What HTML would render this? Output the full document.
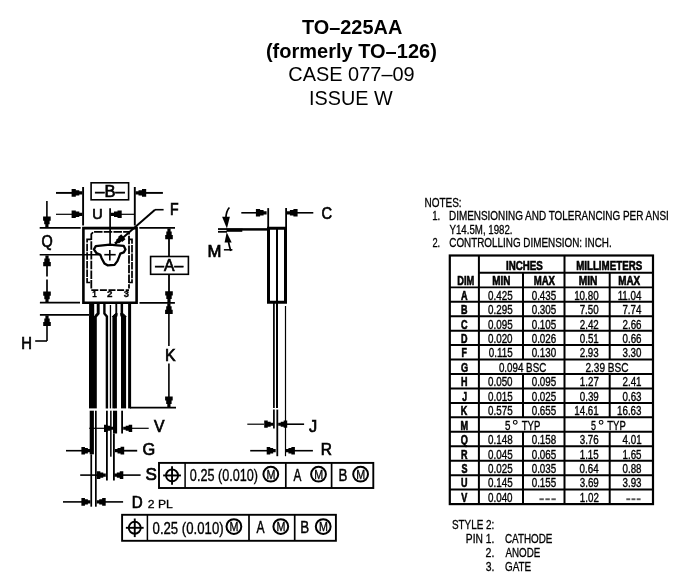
<!DOCTYPE html>
<html><head><meta charset="utf-8"><style>
html,body{margin:0;padding:0;background:#fff;width:686px;height:588px;overflow:hidden}
svg{display:block;will-change:transform}
text{font-family:"Liberation Sans",sans-serif;stroke:none}
</style></head><body>
<svg width="686" height="588" viewBox="0 0 686 588" stroke="#000" fill="none">
<rect x="0" y="0" width="686" height="588" fill="#fff" stroke="none"/>
<g stroke="#000">
<text x="301.90" y="33.70" font-size="21" font-weight="bold" textLength="100.39" lengthAdjust="spacingAndGlyphs" fill="#000" >TO–225AA</text>
<text x="265.90" y="57.90" font-size="21" font-weight="bold" textLength="170.92" lengthAdjust="spacingAndGlyphs" fill="#000" >(formerly TO–126)</text>
<text x="288.30" y="81.20" font-size="20.2" font-weight="normal" textLength="126.36" lengthAdjust="spacingAndGlyphs" fill="#000" >CASE 077–09</text>
<text x="309.12" y="105.20" font-size="20.2" font-weight="normal" textLength="83.64" lengthAdjust="spacingAndGlyphs" fill="#000" >ISSUE W</text>
<line x1="83.1" y1="187" x2="83.1" y2="225.5" stroke-width="1.9" />
<line x1="134.8" y1="187" x2="134.8" y2="225.5" stroke-width="1.9" />
<line x1="56" y1="192.9" x2="75" y2="192.9" stroke-width="1.9" />
<polygon points="82.30,191.30 79.30,191.30 79.30,190.20 75.80,190.20 75.80,189.10 71.60,189.10 71.60,196.70 75.80,196.70 75.80,195.60 79.30,195.60 79.30,194.50 82.30,194.50" stroke="none" fill="#000"/>
<line x1="142" y1="192.9" x2="162.9" y2="192.9" stroke-width="1.9" />
<polygon points="135.50,191.30 138.50,191.30 138.50,190.20 142.00,190.20 142.00,189.10 146.20,189.10 146.20,196.70 142.00,196.70 142.00,195.60 138.50,195.60 138.50,194.50 135.50,194.50" stroke="none" fill="#000"/>
<rect x="91.1" y="182.8" width="37.5" height="17" stroke-width="1.6" fill="none"/>
<text x="95.35" y="196.80" font-size="16.42" font-weight="normal" textLength="29.39" lengthAdjust="spacingAndGlyphs" fill="#000" style="stroke:#000;stroke-width:0.7px">–B–</text>
<line x1="56" y1="214.3" x2="75" y2="214.3" stroke-width="1.2" />
<polygon points="82.30,212.70 79.30,212.70 79.30,211.60 75.80,211.60 75.80,210.50 71.60,210.50 71.60,218.10 75.80,218.10 75.80,217.00 79.30,217.00 79.30,215.90 82.30,215.90" stroke="none" fill="#000"/>
<line x1="110.1" y1="208.3" x2="110.1" y2="244.5" stroke-width="1.7" />
<line x1="117" y1="214.3" x2="134.3" y2="214.3" stroke-width="1.2" />
<polygon points="111.00,212.70 114.00,212.70 114.00,211.60 117.50,211.60 117.50,210.50 121.70,210.50 121.70,218.10 117.50,218.10 117.50,217.00 114.00,217.00 114.00,215.90 111.00,215.90" stroke="none" fill="#000"/>
<text x="92.27" y="219.40" font-size="15.55" font-weight="normal" textLength="10.39" lengthAdjust="spacingAndGlyphs" fill="#000" style="stroke:#000;stroke-width:0.7px">U</text>
<line x1="155" y1="209.7" x2="163.6" y2="209.7" stroke-width="1.6" />
<line x1="155" y1="209.7" x2="118" y2="242" stroke-width="2" />
<polygon points="115.90,244.86 118.25,242.87 118.87,243.59 121.61,241.27 122.23,242.00 125.53,239.21 121.26,234.17 117.96,236.96 118.58,237.69 115.84,240.02 116.45,240.75 114.10,242.74" stroke="none" fill="#000"/>
<text x="169.92" y="215.20" font-size="15.7" font-weight="normal" textLength="8.60" lengthAdjust="spacingAndGlyphs" fill="#000" style="stroke:#000;stroke-width:0.7px">F</text>
<line x1="46.9" y1="201.1" x2="46.9" y2="220" stroke-width="1.6" />
<polygon points="45.30,227.30 45.30,224.30 44.20,224.30 44.20,220.80 43.10,220.80 43.10,216.60 50.70,216.60 50.70,220.80 49.60,220.80 49.60,224.30 48.50,224.30 48.50,227.30" stroke="none" fill="#000"/>
<line x1="39.7" y1="227.9" x2="80.7" y2="227.9" stroke-width="1.8" />
<line x1="39.7" y1="254.7" x2="101" y2="254.7" stroke-width="1.6" />
<text x="41.50" y="247.30" font-size="16.5" font-weight="normal" textLength="11.24" lengthAdjust="spacingAndGlyphs" fill="#000" style="stroke:#000;stroke-width:0.7px">Q</text>
<polygon points="45.40,255.60 45.40,258.60 44.30,258.60 44.30,262.10 43.20,262.10 43.20,266.30 50.80,266.30 50.80,262.10 49.70,262.10 49.70,258.60 48.60,258.60 48.60,255.60" stroke="none" fill="#000"/>
<line x1="47" y1="262" x2="47" y2="276.6" stroke-width="1.7" />
<line x1="47" y1="279.6" x2="47" y2="296" stroke-width="1.7" />
<polygon points="45.40,302.20 45.40,299.20 44.30,299.20 44.30,295.70 43.20,295.70 43.20,291.50 50.80,291.50 50.80,295.70 49.70,295.70 49.70,299.20 48.60,299.20 48.60,302.20" stroke="none" fill="#000"/>
<line x1="39.9" y1="302.7" x2="80" y2="302.7" stroke-width="1.8" />
<line x1="39.9" y1="314.9" x2="89" y2="314.9" stroke-width="1.8" />
<polygon points="45.40,315.40 45.40,318.40 44.30,318.40 44.30,321.90 43.20,321.90 43.20,326.10 50.80,326.10 50.80,321.90 49.70,321.90 49.70,318.40 48.60,318.40 48.60,315.40" stroke="none" fill="#000"/>
<line x1="47" y1="322" x2="47" y2="341" stroke-width="1.6" />
<line x1="47" y1="341" x2="35.2" y2="341" stroke-width="1.6" />
<text x="21.16" y="348.80" font-size="16.42" font-weight="normal" textLength="10.70" lengthAdjust="spacingAndGlyphs" fill="#000" style="stroke:#000;stroke-width:0.7px">H</text>
<path d="M83.4,228.1 H136.6 V302.8 H83.4 Z" stroke-width="2.6" fill="none" />
<line x1="139.3" y1="227.9" x2="175" y2="227.9" stroke-width="1.8" />
<line x1="139.5" y1="302.9" x2="174.9" y2="302.9" stroke-width="1.8" />
<path d="M91.3,288.6 V234.2 L93.3,231.9 H129 V288.6" stroke-width="1.8" fill="none" stroke-dasharray="8.5 1.2"/>
<line x1="91.3" y1="290.2" x2="129" y2="290.2" stroke-width="1.7" stroke-dasharray="7 1.6"/>
<path d="M91.3,239.3 H87.1 V282.5 H91.3" stroke-width="1.7" fill="none" stroke-dasharray="7.5 1.1"/>
<path d="M129,239.3 H132 V282.5 H129" stroke-width="1.7" fill="none" stroke-dasharray="7.5 1.1"/>
<path d="M95.8,246.2 L102.8,245.3 L109.8,244.7 L117.4,245.3 L123.8,245.9 L125.5,249.4 L123.8,252.4 L120.3,253.7 L119.2,256.6 L117.4,261.1 L114.5,264.9 L107.5,265.3 L104.4,263.4 L101.6,258.2 L100.4,254.8 L96.4,253 L93.9,249.4 Z" stroke-width="2.3" fill="none" stroke-linejoin="round"/>
<line x1="104.3" y1="254.7" x2="115.7" y2="254.7" stroke-width="1.6" />
<line x1="109.8" y1="250" x2="109.8" y2="260.5" stroke-width="1.6" />
<text x="92.16" y="297.30" font-size="9.3" font-weight="bold" textLength="4.50" lengthAdjust="spacingAndGlyphs" fill="#000" style="stroke:#000;stroke-width:0.3px">1</text>
<text x="107.01" y="297.30" font-size="9.3" font-weight="bold" textLength="5.45" lengthAdjust="spacingAndGlyphs" fill="#000" style="stroke:#000;stroke-width:0.3px">2</text>
<text x="123.71" y="297.30" font-size="9.3" font-weight="bold" textLength="5.28" lengthAdjust="spacingAndGlyphs" fill="#000" style="stroke:#000;stroke-width:0.3px">3</text>
<polygon points="167.40,228.60 167.40,231.60 166.30,231.60 166.30,235.10 165.20,235.10 165.20,239.30 172.80,239.30 172.80,235.10 171.70,235.10 171.70,231.60 170.60,231.60 170.60,228.60" stroke="none" fill="#000"/>
<line x1="169" y1="236" x2="169" y2="256.5" stroke-width="1.8" />
<rect x="150.6" y="256.5" width="37.8" height="17.8" stroke-width="1.6" fill="none"/>
<text x="155.35" y="270.80" font-size="15.84" font-weight="normal" textLength="27.89" lengthAdjust="spacingAndGlyphs" fill="#000" style="stroke:#000;stroke-width:0.7px">–A–</text>
<line x1="169" y1="274.3" x2="169" y2="294" stroke-width="1.8" />
<polygon points="167.40,302.00 167.40,299.00 166.30,299.00 166.30,295.50 165.20,295.50 165.20,291.30 172.80,291.30 172.80,295.50 171.70,295.50 171.70,299.00 170.60,299.00 170.60,302.00" stroke="none" fill="#000"/>
<polygon points="167.30,303.30 167.30,306.30 166.20,306.30 166.20,309.80 165.10,309.80 165.10,314.00 172.70,314.00 172.70,309.80 171.60,309.80 171.60,306.30 170.50,306.30 170.50,303.30" stroke="none" fill="#000"/>
<line x1="168.9" y1="310" x2="168.9" y2="346" stroke-width="1.6" />
<line x1="168.9" y1="363.5" x2="168.9" y2="400" stroke-width="1.6" />
<polygon points="167.30,407.10 167.30,404.10 166.20,404.10 166.20,400.60 165.10,400.60 165.10,396.40 172.70,396.40 172.70,400.60 171.60,400.60 171.60,404.10 170.50,404.10 170.50,407.10" stroke="none" fill="#000"/>
<text x="164.98" y="360.60" font-size="16.13" font-weight="normal" textLength="10.56" lengthAdjust="spacingAndGlyphs" fill="#000" style="stroke:#000;stroke-width:0.7px">K</text>
<line x1="130" y1="407.6" x2="176" y2="407.6" stroke-width="1.8" />
<rect x="89.1" y="303" width="5.10" height="13.00" fill="#000" stroke="none"/>
<rect x="89" y="316" width="7.80" height="92.40" fill="#000" stroke="none"/>
<path d="M98.2,303 V313.5 L95.5,316.5" stroke-width="2.9" fill="none" />
<path d="M104.4,303 V313.5 L106.9,316.5 V408.4" stroke-width="2.4" fill="none" />
<rect x="109.8" y="305" width="1.30" height="103.40" fill="#000" stroke="none"/>
<path d="M116.3,303 V313.5 L114.6,316.5 V408.4" stroke-width="0.5" fill="none" />
<rect x="112.4" y="316" width="4.50" height="92.40" fill="#000" stroke="none"/>
<rect x="115.4" y="303" width="1.80" height="11.00" fill="#000" stroke="none"/>
<polygon points="115.4,313.5 117.2,313.5 116.9,316.5 112.4,316.5" fill="#000"/>
<rect x="120.6" y="303" width="2.50" height="11.00" fill="#000" stroke="none"/>
<rect x="121" y="316" width="5.10" height="92.40" fill="#000" stroke="none"/>
<polygon points="120.6,313.5 123.1,313.5 126.1,316.5 121,316.5" fill="#000"/>
<rect x="128.1" y="303" width="3.00" height="105.40" fill="#000" stroke="none"/>
<rect x="89.7" y="410.7" width="4.20" height="43.60" fill="#000" stroke="none"/>
<rect x="90.4" y="454.3" width="1.70" height="52.40" fill="#000" stroke="none"/>
<rect x="95" y="410.7" width="1.70" height="96.00" fill="#000" stroke="none"/>
<rect x="106" y="410.7" width="1.80" height="69.80" fill="#000" stroke="none"/>
<rect x="110.1" y="410.7" width="1.50" height="46.00" fill="#000" stroke="none"/>
<rect x="113" y="410.7" width="4.10" height="22.80" fill="#000" stroke="none"/>
<rect x="113" y="433.5" width="1.80" height="47.00" fill="#000" stroke="none"/>
<rect x="121.2" y="410.7" width="1.80" height="22.80" fill="#000" stroke="none"/>
<line x1="89.2" y1="428.3" x2="106" y2="428.3" stroke-width="1.2" />
<polygon points="113.00,426.78 110.48,426.78 110.48,425.74 107.53,425.74 107.53,424.70 104.00,424.70 104.00,431.90 107.53,431.90 107.53,430.86 110.48,430.86 110.48,429.82 113.00,429.82" stroke="none" fill="#000"/>
<line x1="130" y1="428.3" x2="148.7" y2="428.3" stroke-width="1.2" />
<polygon points="123.20,426.78 125.72,426.78 125.72,425.74 128.67,425.74 128.67,424.70 132.20,424.70 132.20,431.90 128.67,431.90 128.67,430.86 125.72,430.86 125.72,429.82 123.20,429.82" stroke="none" fill="#000"/>
<text x="154.07" y="432.30" font-size="15.99" font-weight="normal" textLength="10.49" lengthAdjust="spacingAndGlyphs" fill="#000" style="stroke:#000;stroke-width:0.7px">V</text>
<line x1="66" y1="450.7" x2="82" y2="450.7" stroke-width="1.6" />
<polygon points="90.40,449.10 87.88,449.10 87.88,448.00 84.93,448.00 84.93,446.90 81.40,446.90 81.40,454.50 84.93,454.50 84.93,453.40 87.88,453.40 87.88,452.30 90.40,452.30" stroke="none" fill="#000"/>
<line x1="120" y1="450.7" x2="137.2" y2="450.7" stroke-width="1.8" />
<polygon points="114.90,449.08 117.51,449.08 117.51,447.96 120.55,447.96 120.55,446.85 124.20,446.85 124.20,454.55 120.55,454.55 120.55,453.44 117.51,453.44 117.51,452.32 114.90,452.32" stroke="none" fill="#000"/>
<text x="142.43" y="454.80" font-size="16.5" font-weight="normal" textLength="12.71" lengthAdjust="spacingAndGlyphs" fill="#000" style="stroke:#000;stroke-width:0.7px">G</text>
<line x1="80.2" y1="475.1" x2="97" y2="475.1" stroke-width="1.6" />
<polygon points="105.80,473.50 103.28,473.50 103.28,472.40 100.33,472.40 100.33,471.30 96.80,471.30 96.80,478.90 100.33,478.90 100.33,477.80 103.28,477.80 103.28,476.70 105.80,476.70" stroke="none" fill="#000"/>
<line x1="122" y1="475.1" x2="140.6" y2="475.1" stroke-width="1.6" />
<polygon points="114.30,473.50 116.82,473.50 116.82,472.40 119.77,472.40 119.77,471.30 123.30,471.30 123.30,478.90 119.77,478.90 119.77,477.80 116.82,477.80 116.82,476.70 114.30,476.70" stroke="none" fill="#000"/>
<text x="145.58" y="479.60" font-size="16.5" font-weight="normal" textLength="11.37" lengthAdjust="spacingAndGlyphs" fill="#000" style="stroke:#000;stroke-width:0.7px">S</text>
<line x1="63" y1="501.9" x2="82" y2="501.9" stroke-width="1.6" />
<polygon points="90.40,500.30 87.88,500.30 87.88,499.20 84.93,499.20 84.93,498.10 81.40,498.10 81.40,505.70 84.93,505.70 84.93,504.60 87.88,504.60 87.88,503.50 90.40,503.50" stroke="none" fill="#000"/>
<line x1="104" y1="501.9" x2="123.1" y2="501.9" stroke-width="1.6" />
<polygon points="96.70,500.30 99.22,500.30 99.22,499.20 102.17,499.20 102.17,498.10 105.70,498.10 105.70,505.70 102.17,505.70 102.17,504.60 99.22,504.60 99.22,503.50 96.70,503.50" stroke="none" fill="#000"/>
<text x="131.84" y="508.30" font-size="16" font-weight="normal" textLength="10.92" lengthAdjust="spacingAndGlyphs" fill="#000" style="stroke:#000;stroke-width:0.7px">D</text>
<text x="147.84" y="508.30" font-size="11.3" font-weight="normal" textLength="25.00" lengthAdjust="spacingAndGlyphs" fill="#000" style="stroke:#000;stroke-width:0.3px">2 PL</text>
<rect x="159.0" y="462.9" width="214.3" height="25.100000000000023" stroke-width="1.9" fill="none"/>
<line x1="185.1" y1="462.9" x2="185.1" y2="488.0" stroke-width="1.5" />
<line x1="285.8" y1="462.9" x2="285.8" y2="488.0" stroke-width="1.7" />
<line x1="331.6" y1="462.9" x2="331.6" y2="488.0" stroke-width="1.7" />
<circle cx="172.05" cy="475.45" r="6.0" stroke-width="1.9" fill="none"/>
<line x1="163.15" y1="475.45" x2="180.95000000000002" y2="475.45" stroke-width="1.9" />
<line x1="172.05" y1="466.15" x2="172.05" y2="484.75" stroke-width="1.9" />
<text x="189.87" y="481.35" font-size="16.3" font-weight="normal" textLength="68.05" lengthAdjust="spacingAndGlyphs" fill="#000" style="stroke:#000;stroke-width:0.35px">0.25 (0.010)</text>
<circle cx="270.8" cy="474.2" r="7.4" stroke-width="2.0" fill="none"/>
<text x="266.49" y="478.60" font-size="12.8" font-weight="normal" textLength="8.95" lengthAdjust="spacingAndGlyphs" fill="#000" style="stroke:#000;stroke-width:0.3px">M</text>
<text x="293.43" y="480.85" font-size="16.5" font-weight="normal" textLength="7.87" lengthAdjust="spacingAndGlyphs" fill="#000" style="stroke:#000;stroke-width:0.45px">A</text>
<circle cx="318.5" cy="474.2" r="7.4" stroke-width="2.0" fill="none"/>
<text x="314.19" y="478.60" font-size="12.8" font-weight="normal" textLength="8.95" lengthAdjust="spacingAndGlyphs" fill="#000" style="stroke:#000;stroke-width:0.3px">M</text>
<text x="338.56" y="480.85" font-size="16.5" font-weight="normal" textLength="8.91" lengthAdjust="spacingAndGlyphs" fill="#000" style="stroke:#000;stroke-width:0.45px">B</text>
<circle cx="360.6" cy="474.2" r="7.4" stroke-width="2.0" fill="none"/>
<text x="356.29" y="478.60" font-size="12.8" font-weight="normal" textLength="8.95" lengthAdjust="spacingAndGlyphs" fill="#000" style="stroke:#000;stroke-width:0.3px">M</text>
<rect x="122.1" y="514.8" width="213.79999999999998" height="26.0" stroke-width="1.9" fill="none"/>
<line x1="147.4" y1="514.8" x2="147.4" y2="540.8" stroke-width="1.5" />
<line x1="249" y1="514.8" x2="249" y2="540.8" stroke-width="1.7" />
<line x1="294.7" y1="514.8" x2="294.7" y2="540.8" stroke-width="1.7" />
<circle cx="134.75" cy="527.8" r="6.0" stroke-width="1.9" fill="none"/>
<line x1="125.85" y1="527.8" x2="143.65" y2="527.8" stroke-width="1.9" />
<line x1="134.75" y1="518.5" x2="134.75" y2="537.0999999999999" stroke-width="1.9" />
<text x="152.55" y="533.70" font-size="16.3" font-weight="normal" textLength="71.10" lengthAdjust="spacingAndGlyphs" fill="#000" style="stroke:#000;stroke-width:0.35px">0.25 (0.010)</text>
<circle cx="233.9" cy="526.55" r="7.4" stroke-width="2.0" fill="none"/>
<text x="229.59" y="530.95" font-size="12.8" font-weight="normal" textLength="8.95" lengthAdjust="spacingAndGlyphs" fill="#000" style="stroke:#000;stroke-width:0.3px">M</text>
<text x="256.53" y="533.20" font-size="16.5" font-weight="normal" textLength="8.07" lengthAdjust="spacingAndGlyphs" fill="#000" style="stroke:#000;stroke-width:0.45px">A</text>
<circle cx="280.8" cy="526.55" r="7.4" stroke-width="2.0" fill="none"/>
<text x="276.49" y="530.95" font-size="12.8" font-weight="normal" textLength="8.95" lengthAdjust="spacingAndGlyphs" fill="#000" style="stroke:#000;stroke-width:0.3px">M</text>
<text x="300.36" y="533.20" font-size="16.5" font-weight="normal" textLength="8.91" lengthAdjust="spacingAndGlyphs" fill="#000" style="stroke:#000;stroke-width:0.45px">B</text>
<circle cx="323.2" cy="526.55" r="7.4" stroke-width="2.0" fill="none"/>
<text x="318.89" y="530.95" font-size="12.8" font-weight="normal" textLength="8.95" lengthAdjust="spacingAndGlyphs" fill="#000" style="stroke:#000;stroke-width:0.3px">M</text>
<line x1="268.2" y1="208.1" x2="268.2" y2="228" stroke-width="1.8" />
<line x1="286.1" y1="208.1" x2="286.1" y2="228" stroke-width="1.8" />
<line x1="241.3" y1="212.8" x2="258" y2="212.8" stroke-width="1.6" />
<polygon points="266.60,211.20 263.60,211.20 263.60,210.10 260.10,210.10 260.10,209.00 255.90,209.00 255.90,216.60 260.10,216.60 260.10,215.50 263.60,215.50 263.60,214.40 266.60,214.40" stroke="none" fill="#000"/>
<line x1="295" y1="212.8" x2="313.3" y2="212.8" stroke-width="1.6" />
<polygon points="286.90,211.20 289.90,211.20 289.90,210.10 293.40,210.10 293.40,209.00 297.60,209.00 297.60,216.60 293.40,216.60 293.40,215.50 289.90,215.50 289.90,214.40 286.90,214.40" stroke="none" fill="#000"/>
<text x="321.62" y="218.50" font-size="16.5" font-weight="normal" textLength="10.58" lengthAdjust="spacingAndGlyphs" fill="#000" style="stroke:#000;stroke-width:0.7px">C</text>
<path d="M268.5,228.3 H285.5 V302.3 H268.5 Z" stroke-width="3" fill="none" />
<line x1="277" y1="228" x2="277" y2="408.1" stroke-width="2" />
<rect x="226.5" y="228.1" width="15.80" height="3.70" fill="#000" stroke="none"/>
<line x1="242" y1="229.4" x2="268" y2="229.4" stroke-width="2.5" />
<line x1="218" y1="229.05" x2="227" y2="229.05" stroke-width="1.8" />
<line x1="218" y1="231.8" x2="227" y2="231.8" stroke-width="1.8" />
<path d="M229.4,207.5 Q226.2,211 225.9,218" stroke-width="1.7" fill="none" />
<polygon points="222.1,216.8 229.9,216.8 226.9,228.6" fill="#000" stroke="none"/>
<polygon points="224.6,242.4 231.7,242.4 226.7,232.2" fill="#000" stroke="none"/>
<path d="M228.5,242 Q229.5,247 230.8,251" stroke-width="1.7" fill="none" />
<line x1="223.9" y1="249.8" x2="232.4" y2="249.8" stroke-width="1.5" />
<text x="207.51" y="256.50" font-size="16.42" font-weight="normal" textLength="13.93" lengthAdjust="spacingAndGlyphs" fill="#000" style="stroke:#000;stroke-width:0.7px">M</text>
<line x1="273.9" y1="302" x2="273.9" y2="408.1" stroke-width="1.7" />
<line x1="273.9" y1="409.6" x2="273.9" y2="428.5" stroke-width="1.7" />
<line x1="277.3" y1="409.6" x2="277.3" y2="456.2" stroke-width="1.8" />
<line x1="285.5" y1="306" x2="285.5" y2="456.2" stroke-width="1.2" />
<line x1="247.3" y1="424.2" x2="264" y2="424.2" stroke-width="1.2" />
<polygon points="273.20,422.68 270.68,422.68 270.68,421.64 267.73,421.64 267.73,420.60 264.20,420.60 264.20,427.80 267.73,427.80 267.73,426.76 270.68,426.76 270.68,425.72 273.20,425.72" stroke="none" fill="#000"/>
<line x1="287" y1="424.2" x2="304.1" y2="424.2" stroke-width="1.6" />
<polygon points="278.20,422.68 280.72,422.68 280.72,421.64 283.67,421.64 283.67,420.60 287.20,420.60 287.20,427.80 283.67,427.80 283.67,426.76 280.72,426.76 280.72,425.72 278.20,425.72" stroke="none" fill="#000"/>
<text x="309.10" y="431.60" font-size="16.5" font-weight="normal" textLength="8.17" lengthAdjust="spacingAndGlyphs" fill="#000" style="stroke:#000;stroke-width:0.7px">J</text>
<line x1="250.2" y1="450.7" x2="267" y2="450.7" stroke-width="1.6" />
<polygon points="275.70,449.10 273.18,449.10 273.18,448.00 270.23,448.00 270.23,446.90 266.70,446.90 266.70,454.50 270.23,454.50 270.23,453.40 273.18,453.40 273.18,452.30 275.70,452.30" stroke="none" fill="#000"/>
<line x1="294" y1="450.7" x2="312.9" y2="450.7" stroke-width="1.6" />
<polygon points="285.90,449.10 288.42,449.10 288.42,448.00 291.37,448.00 291.37,446.90 294.90,446.90 294.90,454.50 291.37,454.50 291.37,453.40 288.42,453.40 288.42,452.30 285.90,452.30" stroke="none" fill="#000"/>
<text x="320.71" y="455.40" font-size="15.7" font-weight="normal" textLength="11.17" lengthAdjust="spacingAndGlyphs" fill="#000" style="stroke:#000;stroke-width:0.7px">R</text>
<text x="424.45" y="206.70" font-size="12" font-weight="normal" textLength="37.12" lengthAdjust="spacingAndGlyphs" fill="#000" style="stroke:#000;stroke-width:0.3px">NOTES:</text>
<text x="432.13" y="219.60" font-size="12" font-weight="normal" textLength="8.03" lengthAdjust="spacingAndGlyphs" fill="#000" style="stroke:#000;stroke-width:0.3px">1.</text>
<text x="448.96" y="219.60" font-size="12" font-weight="normal" textLength="219.84" lengthAdjust="spacingAndGlyphs" fill="#000" style="stroke:#000;stroke-width:0.3px">DIMENSIONING AND TOLERANCING PER ANSI</text>
<text x="449.51" y="233.60" font-size="12" font-weight="normal" textLength="63.06" lengthAdjust="spacingAndGlyphs" fill="#000" style="stroke:#000;stroke-width:0.3px">Y14.5M, 1982.</text>
<text x="432.39" y="246.70" font-size="12" font-weight="normal" textLength="7.74" lengthAdjust="spacingAndGlyphs" fill="#000" style="stroke:#000;stroke-width:0.3px">2.</text>
<text x="449.26" y="246.70" font-size="12" font-weight="normal" textLength="162.39" lengthAdjust="spacingAndGlyphs" fill="#000" style="stroke:#000;stroke-width:0.3px">CONTROLLING DIMENSION: INCH.</text>
<rect x="449.8" y="255.5" width="203.2" height="248.60000000000002" stroke-width="2.2" fill="none"/>
<line x1="478.9" y1="255.5" x2="478.9" y2="504.1" stroke-width="2" />
<line x1="564.5" y1="255.5" x2="564.5" y2="504.1" stroke-width="2" />
<line x1="478.9" y1="272.7" x2="653" y2="272.7" stroke-width="2" />
<line x1="449.8" y1="287.3" x2="653" y2="287.3" stroke-width="1.8" />
<line x1="523" y1="272.7" x2="523" y2="287.3" stroke-width="2" />
<line x1="609.7" y1="272.7" x2="609.7" y2="287.3" stroke-width="2" />
<line x1="449.8" y1="301.75" x2="653" y2="301.75" stroke-width="2" />
<line x1="523" y1="287.3" x2="523" y2="301.75" stroke-width="2" />
<line x1="609.7" y1="287.3" x2="609.7" y2="301.75" stroke-width="2" />
<line x1="449.8" y1="316.2" x2="653" y2="316.2" stroke-width="2" />
<line x1="523" y1="301.75" x2="523" y2="316.2" stroke-width="2" />
<line x1="609.7" y1="301.75" x2="609.7" y2="316.2" stroke-width="2" />
<line x1="449.8" y1="330.65" x2="653" y2="330.65" stroke-width="2" />
<line x1="523" y1="316.2" x2="523" y2="330.65" stroke-width="2" />
<line x1="609.7" y1="316.2" x2="609.7" y2="330.65" stroke-width="2" />
<line x1="449.8" y1="345.09999999999997" x2="653" y2="345.09999999999997" stroke-width="2" />
<line x1="523" y1="330.65" x2="523" y2="345.09999999999997" stroke-width="2" />
<line x1="609.7" y1="330.65" x2="609.7" y2="345.09999999999997" stroke-width="2" />
<line x1="449.8" y1="359.55" x2="653" y2="359.55" stroke-width="2" />
<line x1="523" y1="345.1" x2="523" y2="359.55" stroke-width="2" />
<line x1="609.7" y1="345.1" x2="609.7" y2="359.55" stroke-width="2" />
<line x1="449.8" y1="374.0" x2="653" y2="374.0" stroke-width="2" />
<line x1="449.8" y1="388.45" x2="653" y2="388.45" stroke-width="2" />
<line x1="523" y1="374.0" x2="523" y2="388.45" stroke-width="2" />
<line x1="609.7" y1="374.0" x2="609.7" y2="388.45" stroke-width="2" />
<line x1="449.8" y1="402.9" x2="653" y2="402.9" stroke-width="2" />
<line x1="523" y1="388.45" x2="523" y2="402.9" stroke-width="2" />
<line x1="609.7" y1="388.45" x2="609.7" y2="402.9" stroke-width="2" />
<line x1="449.8" y1="417.34999999999997" x2="653" y2="417.34999999999997" stroke-width="2" />
<line x1="523" y1="402.9" x2="523" y2="417.34999999999997" stroke-width="2" />
<line x1="609.7" y1="402.9" x2="609.7" y2="417.34999999999997" stroke-width="2" />
<line x1="449.8" y1="431.8" x2="653" y2="431.8" stroke-width="2" />
<line x1="449.8" y1="446.25" x2="653" y2="446.25" stroke-width="2" />
<line x1="523" y1="431.8" x2="523" y2="446.25" stroke-width="2" />
<line x1="609.7" y1="431.8" x2="609.7" y2="446.25" stroke-width="2" />
<line x1="449.8" y1="460.7" x2="653" y2="460.7" stroke-width="2" />
<line x1="523" y1="446.25" x2="523" y2="460.7" stroke-width="2" />
<line x1="609.7" y1="446.25" x2="609.7" y2="460.7" stroke-width="2" />
<line x1="449.8" y1="475.15" x2="653" y2="475.15" stroke-width="2" />
<line x1="523" y1="460.7" x2="523" y2="475.15" stroke-width="2" />
<line x1="609.7" y1="460.7" x2="609.7" y2="475.15" stroke-width="2" />
<line x1="449.8" y1="489.59999999999997" x2="653" y2="489.59999999999997" stroke-width="2" />
<line x1="523" y1="475.15" x2="523" y2="489.59999999999997" stroke-width="2" />
<line x1="609.7" y1="475.15" x2="609.7" y2="489.59999999999997" stroke-width="2" />
<line x1="523" y1="489.6" x2="523" y2="504.05" stroke-width="2" />
<line x1="609.7" y1="489.6" x2="609.7" y2="504.05" stroke-width="2" />
<text x="505.97" y="270.30" font-size="12.3" font-weight="bold" textLength="36.91" lengthAdjust="spacingAndGlyphs" fill="#000" style="stroke:#000;stroke-width:0.6px">INCHES</text>
<text x="576.17" y="270.30" font-size="12.3" font-weight="bold" textLength="66.00" lengthAdjust="spacingAndGlyphs" fill="#000" style="stroke:#000;stroke-width:0.6px">MILLIMETERS</text>
<text x="457.20" y="285.00" font-size="12.3" font-weight="bold" textLength="17.04" lengthAdjust="spacingAndGlyphs" fill="#000" style="stroke:#000;stroke-width:0.6px">DIM</text>
<text x="492.15" y="285.00" font-size="12.3" font-weight="bold" textLength="18.22" lengthAdjust="spacingAndGlyphs" fill="#000" style="stroke:#000;stroke-width:0.6px">MIN</text>
<text x="533.68" y="285.00" font-size="12.3" font-weight="bold" textLength="21.34" lengthAdjust="spacingAndGlyphs" fill="#000" style="stroke:#000;stroke-width:0.6px">MAX</text>
<text x="578.73" y="285.00" font-size="12.3" font-weight="bold" textLength="18.76" lengthAdjust="spacingAndGlyphs" fill="#000" style="stroke:#000;stroke-width:0.6px">MIN</text>
<text x="618.16" y="285.00" font-size="12.3" font-weight="bold" textLength="21.96" lengthAdjust="spacingAndGlyphs" fill="#000" style="stroke:#000;stroke-width:0.6px">MAX</text>
<text x="461.07" y="299.60" font-size="12" font-weight="bold" textLength="6.58" lengthAdjust="spacingAndGlyphs" fill="#000" style="stroke:#000;stroke-width:0.6px">A</text>
<text x="488.08" y="299.60" font-size="12.2" font-weight="normal" textLength="24.56" lengthAdjust="spacingAndGlyphs" fill="#000" style="stroke:#000;stroke-width:0.35px">0.425</text>
<text x="531.68" y="299.60" font-size="12.2" font-weight="normal" textLength="24.56" lengthAdjust="spacingAndGlyphs" fill="#000" style="stroke:#000;stroke-width:0.35px">0.435</text>
<text x="574.14" y="299.60" font-size="12.2" font-weight="normal" textLength="24.56" lengthAdjust="spacingAndGlyphs" fill="#000" style="stroke:#000;stroke-width:0.35px">10.80</text>
<text x="617.64" y="299.60" font-size="12.2" font-weight="normal" textLength="23.82" lengthAdjust="spacingAndGlyphs" fill="#000" style="stroke:#000;stroke-width:0.35px">11.04</text>
<text x="461.01" y="314.05" font-size="12" font-weight="bold" textLength="6.51" lengthAdjust="spacingAndGlyphs" fill="#000" style="stroke:#000;stroke-width:0.6px">B</text>
<text x="488.08" y="314.05" font-size="12.2" font-weight="normal" textLength="24.56" lengthAdjust="spacingAndGlyphs" fill="#000" style="stroke:#000;stroke-width:0.35px">0.295</text>
<text x="531.68" y="314.05" font-size="12.2" font-weight="normal" textLength="24.56" lengthAdjust="spacingAndGlyphs" fill="#000" style="stroke:#000;stroke-width:0.35px">0.305</text>
<text x="579.66" y="314.05" font-size="12.2" font-weight="normal" textLength="19.02" lengthAdjust="spacingAndGlyphs" fill="#000" style="stroke:#000;stroke-width:0.35px">7.50</text>
<text x="622.41" y="314.05" font-size="12.2" font-weight="normal" textLength="19.02" lengthAdjust="spacingAndGlyphs" fill="#000" style="stroke:#000;stroke-width:0.35px">7.74</text>
<text x="461.01" y="328.50" font-size="12" font-weight="bold" textLength="6.56" lengthAdjust="spacingAndGlyphs" fill="#000" style="stroke:#000;stroke-width:0.6px">C</text>
<text x="488.08" y="328.50" font-size="12.2" font-weight="normal" textLength="24.56" lengthAdjust="spacingAndGlyphs" fill="#000" style="stroke:#000;stroke-width:0.35px">0.095</text>
<text x="531.68" y="328.50" font-size="12.2" font-weight="normal" textLength="24.56" lengthAdjust="spacingAndGlyphs" fill="#000" style="stroke:#000;stroke-width:0.35px">0.105</text>
<text x="579.81" y="328.50" font-size="12.2" font-weight="normal" textLength="19.01" lengthAdjust="spacingAndGlyphs" fill="#000" style="stroke:#000;stroke-width:0.35px">2.42</text>
<text x="622.51" y="328.50" font-size="12.2" font-weight="normal" textLength="19.02" lengthAdjust="spacingAndGlyphs" fill="#000" style="stroke:#000;stroke-width:0.35px">2.66</text>
<text x="460.99" y="342.95" font-size="12" font-weight="bold" textLength="6.52" lengthAdjust="spacingAndGlyphs" fill="#000" style="stroke:#000;stroke-width:0.6px">D</text>
<text x="488.03" y="342.95" font-size="12.2" font-weight="normal" textLength="24.56" lengthAdjust="spacingAndGlyphs" fill="#000" style="stroke:#000;stroke-width:0.35px">0.020</text>
<text x="531.68" y="342.95" font-size="12.2" font-weight="normal" textLength="24.56" lengthAdjust="spacingAndGlyphs" fill="#000" style="stroke:#000;stroke-width:0.35px">0.026</text>
<text x="579.76" y="342.95" font-size="12.2" font-weight="normal" textLength="19.02" lengthAdjust="spacingAndGlyphs" fill="#000" style="stroke:#000;stroke-width:0.35px">0.51</text>
<text x="622.51" y="342.95" font-size="12.2" font-weight="normal" textLength="19.02" lengthAdjust="spacingAndGlyphs" fill="#000" style="stroke:#000;stroke-width:0.35px">0.66</text>
<text x="461.53" y="357.40" font-size="12" font-weight="bold" textLength="5.39" lengthAdjust="spacingAndGlyphs" fill="#000" style="stroke:#000;stroke-width:0.6px">F</text>
<text x="488.83" y="357.40" font-size="12.2" font-weight="normal" textLength="23.82" lengthAdjust="spacingAndGlyphs" fill="#000" style="stroke:#000;stroke-width:0.35px">0.115</text>
<text x="531.63" y="357.40" font-size="12.2" font-weight="normal" textLength="24.56" lengthAdjust="spacingAndGlyphs" fill="#000" style="stroke:#000;stroke-width:0.35px">0.130</text>
<text x="579.71" y="357.40" font-size="12.2" font-weight="normal" textLength="19.02" lengthAdjust="spacingAndGlyphs" fill="#000" style="stroke:#000;stroke-width:0.35px">2.93</text>
<text x="622.46" y="357.40" font-size="12.2" font-weight="normal" textLength="19.02" lengthAdjust="spacingAndGlyphs" fill="#000" style="stroke:#000;stroke-width:0.35px">3.30</text>
<text x="460.91" y="371.85" font-size="12" font-weight="bold" textLength="7.09" lengthAdjust="spacingAndGlyphs" fill="#000" style="stroke:#000;stroke-width:0.6px">G</text>
<text x="498.88" y="371.85" font-size="12.2" font-weight="normal" textLength="47.40" lengthAdjust="spacingAndGlyphs" fill="#000" style="stroke:#000;stroke-width:0.35px">0.094 BSC</text>
<text x="585.47" y="371.85" font-size="12.2" font-weight="normal" textLength="43.11" lengthAdjust="spacingAndGlyphs" fill="#000" style="stroke:#000;stroke-width:0.35px">2.39 BSC</text>
<text x="461.12" y="386.30" font-size="12" font-weight="bold" textLength="6.49" lengthAdjust="spacingAndGlyphs" fill="#000" style="stroke:#000;stroke-width:0.6px">H</text>
<text x="488.03" y="386.30" font-size="12.2" font-weight="normal" textLength="24.56" lengthAdjust="spacingAndGlyphs" fill="#000" style="stroke:#000;stroke-width:0.35px">0.050</text>
<text x="531.68" y="386.30" font-size="12.2" font-weight="normal" textLength="24.56" lengthAdjust="spacingAndGlyphs" fill="#000" style="stroke:#000;stroke-width:0.35px">0.095</text>
<text x="579.82" y="386.30" font-size="12.2" font-weight="normal" textLength="19.01" lengthAdjust="spacingAndGlyphs" fill="#000" style="stroke:#000;stroke-width:0.35px">1.27</text>
<text x="622.56" y="386.30" font-size="12.2" font-weight="normal" textLength="19.01" lengthAdjust="spacingAndGlyphs" fill="#000" style="stroke:#000;stroke-width:0.35px">2.41</text>
<text x="462.14" y="400.75" font-size="12" font-weight="bold" textLength="4.86" lengthAdjust="spacingAndGlyphs" fill="#000" style="stroke:#000;stroke-width:0.6px">J</text>
<text x="488.08" y="400.75" font-size="12.2" font-weight="normal" textLength="24.56" lengthAdjust="spacingAndGlyphs" fill="#000" style="stroke:#000;stroke-width:0.35px">0.015</text>
<text x="531.68" y="400.75" font-size="12.2" font-weight="normal" textLength="24.56" lengthAdjust="spacingAndGlyphs" fill="#000" style="stroke:#000;stroke-width:0.35px">0.025</text>
<text x="579.76" y="400.75" font-size="12.2" font-weight="normal" textLength="19.02" lengthAdjust="spacingAndGlyphs" fill="#000" style="stroke:#000;stroke-width:0.35px">0.39</text>
<text x="622.51" y="400.75" font-size="12.2" font-weight="normal" textLength="19.02" lengthAdjust="spacingAndGlyphs" fill="#000" style="stroke:#000;stroke-width:0.35px">0.63</text>
<text x="460.84" y="415.20" font-size="12" font-weight="bold" textLength="6.55" lengthAdjust="spacingAndGlyphs" fill="#000" style="stroke:#000;stroke-width:0.6px">K</text>
<text x="488.08" y="415.20" font-size="12.2" font-weight="normal" textLength="24.56" lengthAdjust="spacingAndGlyphs" fill="#000" style="stroke:#000;stroke-width:0.35px">0.575</text>
<text x="531.68" y="415.20" font-size="12.2" font-weight="normal" textLength="24.56" lengthAdjust="spacingAndGlyphs" fill="#000" style="stroke:#000;stroke-width:0.35px">0.655</text>
<text x="574.24" y="415.20" font-size="12.2" font-weight="normal" textLength="24.55" lengthAdjust="spacingAndGlyphs" fill="#000" style="stroke:#000;stroke-width:0.35px">14.61</text>
<text x="616.99" y="415.20" font-size="12.2" font-weight="normal" textLength="24.55" lengthAdjust="spacingAndGlyphs" fill="#000" style="stroke:#000;stroke-width:0.35px">16.63</text>
<text x="460.56" y="429.65" font-size="12" font-weight="bold" textLength="7.62" lengthAdjust="spacingAndGlyphs" fill="#000" style="stroke:#000;stroke-width:0.6px">M</text>
<text x="504.98" y="429.65" font-size="12.2" font-weight="normal" textLength="5.44" lengthAdjust="spacingAndGlyphs" fill="#000" style="stroke:#000;stroke-width:0.35px">5</text>
<text x="521.68" y="429.65" font-size="12.2" font-weight="normal" textLength="18.62" lengthAdjust="spacingAndGlyphs" fill="#000" style="stroke:#000;stroke-width:0.35px">TYP</text>
<circle cx="515.25" cy="422.35" r="1.9" stroke-width="1.05" fill="none"/>
<text x="591.02" y="429.65" font-size="12.2" font-weight="normal" textLength="4.98" lengthAdjust="spacingAndGlyphs" fill="#000" style="stroke:#000;stroke-width:0.35px">5</text>
<text x="607.29" y="429.65" font-size="12.2" font-weight="normal" textLength="18.41" lengthAdjust="spacingAndGlyphs" fill="#000" style="stroke:#000;stroke-width:0.35px">TYP</text>
<circle cx="601.1" cy="422.35" r="1.9" stroke-width="1.05" fill="none"/>
<text x="460.81" y="444.10" font-size="12" font-weight="bold" textLength="7.11" lengthAdjust="spacingAndGlyphs" fill="#000" style="stroke:#000;stroke-width:0.6px">Q</text>
<text x="488.08" y="444.10" font-size="12.2" font-weight="normal" textLength="24.56" lengthAdjust="spacingAndGlyphs" fill="#000" style="stroke:#000;stroke-width:0.35px">0.148</text>
<text x="531.68" y="444.10" font-size="12.2" font-weight="normal" textLength="24.56" lengthAdjust="spacingAndGlyphs" fill="#000" style="stroke:#000;stroke-width:0.35px">0.158</text>
<text x="579.71" y="444.10" font-size="12.2" font-weight="normal" textLength="19.02" lengthAdjust="spacingAndGlyphs" fill="#000" style="stroke:#000;stroke-width:0.35px">3.76</text>
<text x="622.56" y="444.10" font-size="12.2" font-weight="normal" textLength="19.02" lengthAdjust="spacingAndGlyphs" fill="#000" style="stroke:#000;stroke-width:0.35px">4.01</text>
<text x="460.89" y="458.55" font-size="12" font-weight="bold" textLength="6.54" lengthAdjust="spacingAndGlyphs" fill="#000" style="stroke:#000;stroke-width:0.6px">R</text>
<text x="488.08" y="458.55" font-size="12.2" font-weight="normal" textLength="24.56" lengthAdjust="spacingAndGlyphs" fill="#000" style="stroke:#000;stroke-width:0.35px">0.045</text>
<text x="531.68" y="458.55" font-size="12.2" font-weight="normal" textLength="24.56" lengthAdjust="spacingAndGlyphs" fill="#000" style="stroke:#000;stroke-width:0.35px">0.065</text>
<text x="579.72" y="458.55" font-size="12.2" font-weight="normal" textLength="19.01" lengthAdjust="spacingAndGlyphs" fill="#000" style="stroke:#000;stroke-width:0.35px">1.15</text>
<text x="622.52" y="458.55" font-size="12.2" font-weight="normal" textLength="19.01" lengthAdjust="spacingAndGlyphs" fill="#000" style="stroke:#000;stroke-width:0.35px">1.65</text>
<text x="461.38" y="473.00" font-size="12" font-weight="bold" textLength="6.00" lengthAdjust="spacingAndGlyphs" fill="#000" style="stroke:#000;stroke-width:0.6px">S</text>
<text x="488.08" y="473.00" font-size="12.2" font-weight="normal" textLength="24.56" lengthAdjust="spacingAndGlyphs" fill="#000" style="stroke:#000;stroke-width:0.35px">0.025</text>
<text x="531.68" y="473.00" font-size="12.2" font-weight="normal" textLength="24.56" lengthAdjust="spacingAndGlyphs" fill="#000" style="stroke:#000;stroke-width:0.35px">0.035</text>
<text x="579.61" y="473.00" font-size="12.2" font-weight="normal" textLength="19.02" lengthAdjust="spacingAndGlyphs" fill="#000" style="stroke:#000;stroke-width:0.35px">0.64</text>
<text x="622.51" y="473.00" font-size="12.2" font-weight="normal" textLength="19.02" lengthAdjust="spacingAndGlyphs" fill="#000" style="stroke:#000;stroke-width:0.35px">0.88</text>
<text x="461.11" y="487.45" font-size="12" font-weight="bold" textLength="6.50" lengthAdjust="spacingAndGlyphs" fill="#000" style="stroke:#000;stroke-width:0.6px">U</text>
<text x="488.08" y="487.45" font-size="12.2" font-weight="normal" textLength="24.56" lengthAdjust="spacingAndGlyphs" fill="#000" style="stroke:#000;stroke-width:0.35px">0.145</text>
<text x="531.68" y="487.45" font-size="12.2" font-weight="normal" textLength="24.56" lengthAdjust="spacingAndGlyphs" fill="#000" style="stroke:#000;stroke-width:0.35px">0.155</text>
<text x="579.76" y="487.45" font-size="12.2" font-weight="normal" textLength="19.02" lengthAdjust="spacingAndGlyphs" fill="#000" style="stroke:#000;stroke-width:0.35px">3.69</text>
<text x="622.51" y="487.45" font-size="12.2" font-weight="normal" textLength="19.02" lengthAdjust="spacingAndGlyphs" fill="#000" style="stroke:#000;stroke-width:0.35px">3.93</text>
<text x="461.33" y="501.90" font-size="12" font-weight="bold" textLength="6.06" lengthAdjust="spacingAndGlyphs" fill="#000" style="stroke:#000;stroke-width:0.6px">V</text>
<text x="488.03" y="501.90" font-size="12.2" font-weight="normal" textLength="24.56" lengthAdjust="spacingAndGlyphs" fill="#000" style="stroke:#000;stroke-width:0.35px">0.040</text>
<rect x="539.4" y="498.3" width="4.40" height="1.90" fill="#555" stroke="none"/>
<rect x="545.4" y="498.3" width="4.40" height="1.90" fill="#555" stroke="none"/>
<rect x="551.4" y="498.3" width="4.40" height="1.90" fill="#555" stroke="none"/>
<text x="579.82" y="501.90" font-size="12.2" font-weight="normal" textLength="19.01" lengthAdjust="spacingAndGlyphs" fill="#000" style="stroke:#000;stroke-width:0.35px">1.02</text>
<rect x="626.3" y="498.3" width="3.90" height="1.90" fill="#555" stroke="none"/>
<rect x="631.5" y="498.3" width="3.90" height="1.90" fill="#555" stroke="none"/>
<rect x="636.6999999999999" y="498.3" width="3.90" height="1.90" fill="#555" stroke="none"/>
<text x="451.90" y="528.80" font-size="12" font-weight="normal" textLength="42.39" lengthAdjust="spacingAndGlyphs" fill="#000" style="stroke:#000;stroke-width:0.3px">STYLE 2:</text>
<text x="465.83" y="542.70" font-size="12" font-weight="normal" textLength="28.48" lengthAdjust="spacingAndGlyphs" fill="#000" style="stroke:#000;stroke-width:0.3px">PIN 1.</text>
<text x="504.96" y="542.70" font-size="12" font-weight="normal" textLength="47.49" lengthAdjust="spacingAndGlyphs" fill="#000" style="stroke:#000;stroke-width:0.3px">CATHODE</text>
<text x="485.52" y="556.60" font-size="12" font-weight="normal" textLength="8.82" lengthAdjust="spacingAndGlyphs" fill="#000" style="stroke:#000;stroke-width:0.3px">2.</text>
<text x="505.45" y="556.60" font-size="12" font-weight="normal" textLength="34.80" lengthAdjust="spacingAndGlyphs" fill="#000" style="stroke:#000;stroke-width:0.3px">ANODE</text>
<text x="485.63" y="570.60" font-size="12" font-weight="normal" textLength="8.70" lengthAdjust="spacingAndGlyphs" fill="#000" style="stroke:#000;stroke-width:0.3px">3.</text>
<text x="504.96" y="570.60" font-size="12" font-weight="normal" textLength="26.12" lengthAdjust="spacingAndGlyphs" fill="#000" style="stroke:#000;stroke-width:0.3px">GATE</text>
</g>
</svg>
</body></html>
